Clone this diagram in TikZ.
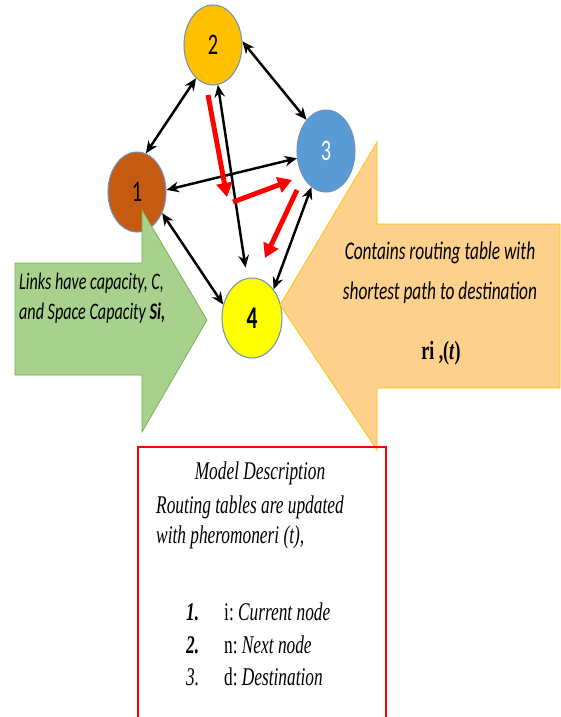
\documentclass[tikz,border=0pt]{standalone}
\usepackage{fontspec}
\setmainfont{Liberation Serif}
\newfontfamily\callfont[FakeStretch=0.68]{Carlito}
\newfontfamily\descfont[FakeStretch=0.68]{Liberation Serif}
\usetikzlibrary{arrows.meta}
\usetikzlibrary{shapes.geometric}

\definecolor{brownnode}{HTML}{C55A11}
\definecolor{goldnode}{HTML}{FFC000}
\definecolor{bluenode}{HTML}{5B9BD5}
\definecolor{yellownode}{HTML}{FFFF00}
\definecolor{nodeborder}{HTML}{6E93BE}
\definecolor{greenfill}{HTML}{A9D18E}
\definecolor{greenline}{HTML}{70AD47}
\definecolor{orangefill}{HTML}{FDD08C}
\definecolor{orangeline}{HTML}{FFC000}

\tikzset{
	netnode/.style={ellipse, draw=nodeborder, line width=0.6pt, minimum width=1.16cm, minimum height=1.6cm, inner sep=0pt, font=\callfont\fontsize{17}{17}\selectfont},
	link/.style={<->, >={Stealth[length=7pt,width=6pt]}, line width=1.4pt, black},
	route/.style={-{Triangle[length=8pt,width=9pt]}, line width=2.8pt, red},
	calltext/.style={font=\callfont\itshape\fontsize{13.5}{17}\selectfont},
	desctext/.style={font=\descfont\itshape\fontsize{14.5}{17}\selectfont}
}

\begin{document}
\begin{tikzpicture}[x=0.02cm, y=-0.02cm]

						\useasboundingbox (0, 0) rectangle (561, 717);

						\node[netnode, fill=brownnode](n1) at (137, 192){1};
						\node[netnode, fill=goldnode](n2) at (213, 45){2};
						\node[netnode, fill=bluenode, text=white, minimum height=1.64cm](n3) at (326, 151){3};
						\node[netnode, fill=yellownode, minimum width=1.2cm, font=\callfont\bfseries\fontsize{18}{18}\selectfont](n4) at (252, 318){4};

						\draw[greenline, fill=greenfill] (15, 263)--(142, 263)--(142, 210)--(207, 320)--(142, 432)--(142, 375)--(15, 375)--cycle;
						\draw[orangeline, fill=orangefill] (560, 224)--(377, 224)--(377, 142)--(280, 305)--(377, 450)--(377, 388)--(560, 388)--cycle;
						\draw[red, line width=0.8pt] (138, 725)--(138, 447)--(386, 447)--(386, 725);

						\draw[link] (n1.77)--(n2.243);
						\draw[link] (n2.7)--(n3.122);
						\draw[link, shorten >=6pt] (n2.277)--(n4.97);
						\draw[link] (n1.4)--(n3.194);
						\draw[link] (n1.320)--(n4.155);
						\draw[link] (n3.248)--(n4.53);

						\coordinate(r1) at (208, 95);
						\coordinate(r2) at (227, 197);
						\coordinate(r3) at (233, 202);
						\coordinate(r4) at (292, 180);
						\coordinate(r5) at (297, 190);
						\coordinate(r6) at (265, 258);
						\draw[route] (r1)--(r2);
						\draw[route] (r3)--(r4);
						\draw[route] (r5)--(r6);

						\node[calltext, anchor=west, align=left](links) at (13, 298){Links have capacity, C,\\and Space Capacity \textbf{Si,}};
						\node[calltext, align=center, font=\callfont\itshape\fontsize{14.5}{22.7}\selectfont](routing) at (440, 273){Contains routing table with\\shortest path to destination};
						\node[font=\descfont\bfseries\fontsize{15}{15}\selectfont](rival) at (441, 353){ri\,,(\textit{t})};

						\node[desctext](title) at (260, 473){Model Description};
						\node[desctext, anchor=west, align=left](body) at (150, 522){Routing tables are updated\\with pheromoneri (t),};
						\node[desctext, anchor=west](k1) at (180, 612){\textbf{1.}};
						\node[desctext, anchor=west](k2) at (180, 645){\textbf{2.}};
						\node[desctext, anchor=west](k3) at (180, 677){3.};
						\node[desctext, anchor=west](i1) at (218, 612){\upshape i:\,\itshape Current node};
						\node[desctext, anchor=west](i2) at (218, 645){\upshape n:\,\itshape Next node};
						\node[desctext, anchor=west](i3) at (218, 677){\upshape d:\,\itshape Destination};
					\end{tikzpicture}
\end{document}
